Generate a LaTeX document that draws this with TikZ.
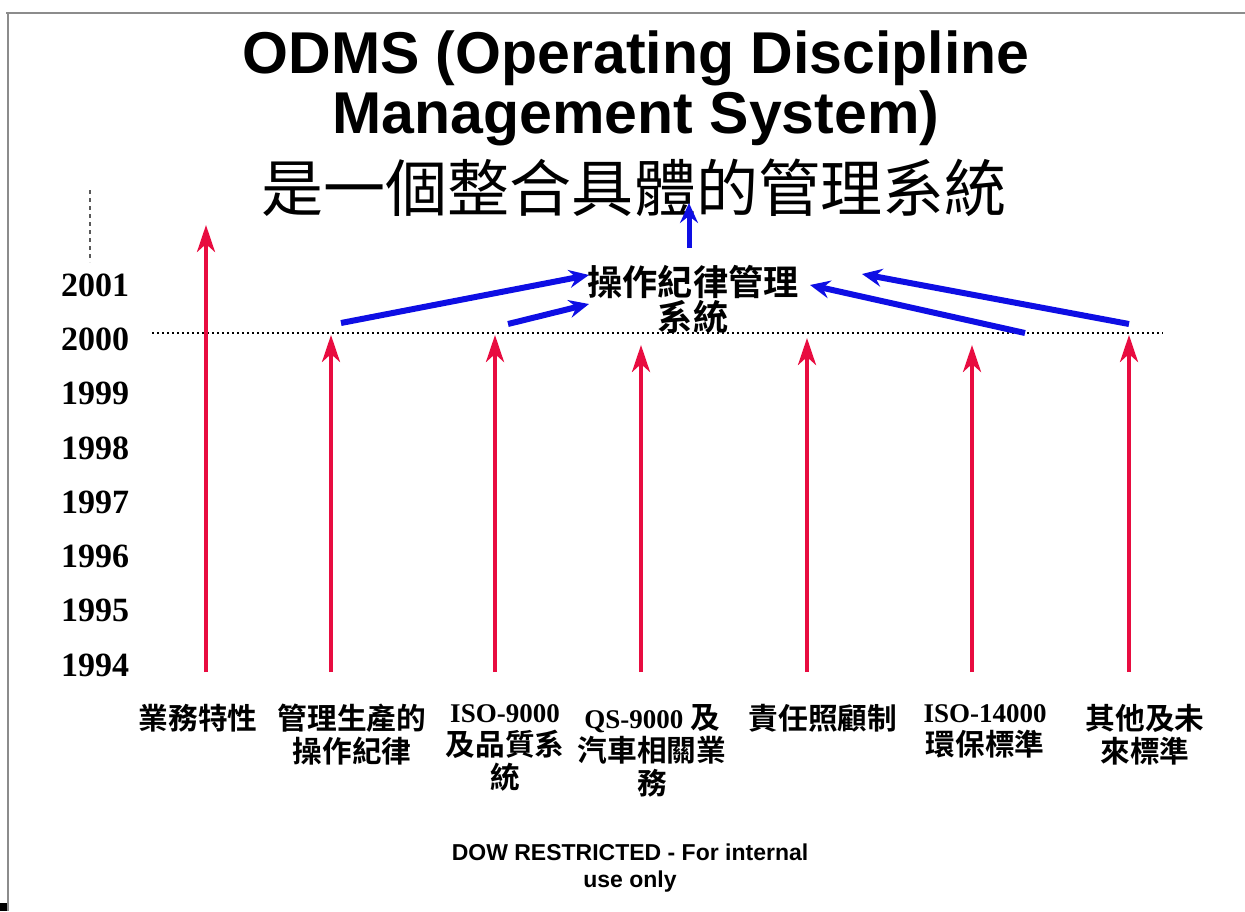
\documentclass[tikz,border=0pt]{standalone}
\usepackage{fontspec}
\setmainfont{Liberation Serif}
\setsansfont{Liberation Sans}
\newfontfamily\cjk{Noto Sans CJK TC}[Scale=1.1,BoldFont={* Bold}]
\usetikzlibrary{arrows.meta}
\definecolor{odmsRed}{RGB}{232,12,64}
\definecolor{odmsBlue}{RGB}{14,14,228}
\colorlet{odmsFrame}{black!45}
\newcommand{\zh}[1]{{\cjk\bfseries #1}}
\tikzset{
  titletext/.style={
    inner sep=0pt,
    align=center,
    font=\sffamily\bfseries\fontsize{59}{62}\selectfont
  },
  zhtitle/.style={
    inner sep=0pt,
    font=\cjk\fontsize{56.4}{60}\selectfont
  },
  yearlab/.style={
    inner sep=0pt,
    font=\rmfamily\bfseries\fontsize{34}{34}\selectfont
  },
  itemlab/.style={
    inner sep=0pt,
    anchor=north,
    align=center,
    font=\rmfamily\bfseries\fontsize{27}{33}\selectfont
  },
  centerlab/.style={
    inner sep=0pt,
    align=center,
    font=\cjk\bfseries\fontsize{32}{35}\selectfont
  },
  footlab/.style={
    inner sep=0pt,
    align=center,
    font=\sffamily\bfseries\fontsize{23}{27}\selectfont
  },
  redarrow/.style={
    -{Stealth[length=27pt,width=18pt,inset=8pt]},
    line width=4pt,
    draw=odmsRed
  },
  bluearrow/.style={
    -{Stealth[length=20pt,width=18pt,inset=7pt]},
    line width=6pt,
    draw=odmsBlue
  },
  yearline/.style={
    line width=2.4pt,
    dash pattern=on 2.4pt off 2.6pt
  }
}

\begin{document}
\begin{tikzpicture}[x=1pt,y=-1pt]
\useasboundingbox (0,0) rectangle (1245,911);

% frame of the slide
\draw[odmsFrame, line width=2pt] (6,13) -- (1245,13);
\draw[odmsFrame, line width=2pt] (8,13) -- (8,911);
\fill[black] (0,903) rectangle (7,911);

% title
\node[titletext] (title1) at (636,58) {ODMS (Operating Discipline};
\node[titletext] (title2) at (636,118) {Management System)};
\node[zhtitle] (title3) at (634,188) {是一個整合具體的管理系統};

% year axis
\foreach \yr in {1994,...,2001}{
  \pgfmathsetmacro{\ypos}{285+(2001-\yr)*54.3}
  \node[yearlab] (y\yr) at (95,\ypos) {\yr};
}
\coordinate (axtop) at (90,190);
\coordinate (axbot) at (90,262);
\draw[black!65, line width=2pt, dash pattern=on 4pt off 4pt] (axtop) -- (axbot);
\coordinate (lineW) at (152,333);
\coordinate (lineE) at (1163,333);
\draw[yearline] (lineW) -- (lineE);

% items and their red arrows
\foreach \i/\x/\lx/\top/\txt in {
  1/206/198/225/{\zh{業務特性}},
  2/331/352/335/{\zh{管理生產的}\\\zh{操作紀律}},
  3/495/505/335/{ISO-9000\\\zh{及品質系}\\\zh{統}},
  4/641/652/345/{QS-9000 \zh{及}\\\zh{汽車相關業}\\\zh{務}},
  5/807/823/338/{\zh{責任照顧制}},
  6/972/985/345/{ISO-14000\\\zh{環保標準}},
  7/1129/1145/335/{\zh{其他及未}\\\zh{來標準}}}{
  \node[itemlab] (item\i) at (\lx,704) {\txt};
  \coordinate (base\i) at (\x,672);
  \coordinate (tip\i) at (\x,\top);
  \draw[redarrow] (base\i) -- (tip\i);
}

% integrated system
\node[centerlab] (ods) at (693,300) {操作紀律管理\\系統};

\coordinate (inA) at (341,323);
\coordinate (inB) at (508,324);
\coordinate (inC) at (1025,333);
\coordinate (inD) at (1129,324);
\coordinate (atA) at (589,275);
\coordinate (atB) at (589,304);
\coordinate (atC) at (810,285);
\coordinate (atD) at (862,274);
\draw[bluearrow] (inA) -- (atA);
\draw[bluearrow] (inB) -- (atB);
\draw[bluearrow] (inC) -- (atC);
\draw[bluearrow] (inD) -- (atD);

\coordinate (upbase) at (689,248);
\coordinate (uptip) at (689,203);
\draw[bluearrow, line width=5pt] (upbase) -- (uptip);

% footer
\node[footlab] (foot) at (630,868) {DOW RESTRICTED - For internal\\use only};

\end{tikzpicture}
\end{document}
